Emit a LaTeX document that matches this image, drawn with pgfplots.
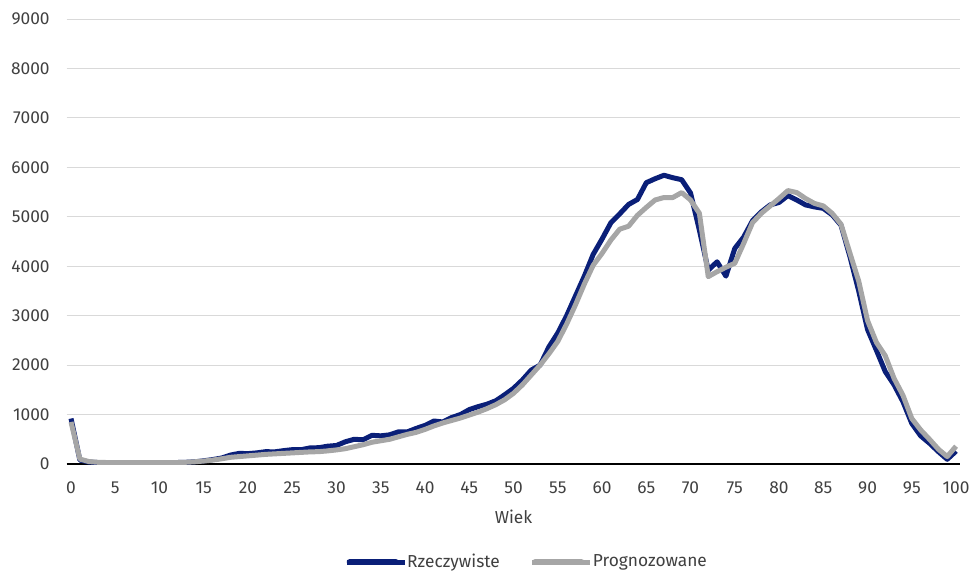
\documentclass[border=0pt]{standalone}
\usepackage{fontspec}
\setmainfont{Fira Sans}
\usepackage{pgfplots}
\usepackage{pgfplotstable}
\pgfplotsset{compat=1.18}

\definecolor{navy}{HTML}{0A1F78}
\definecolor{szary}{HTML}{A6A6A6}
\definecolor{siatka}{HTML}{D9D9D9}
\definecolor{tekst}{HTML}{404040}

\pgfplotstableread{
wiek rz pr
0 920 850
1 80 100
2 40 50
3 30 35
4 30 30
5 28 30
6 28 30
7 28 30
8 28 30
9 28 30
10 28 30
11 28 30
12 30 30
13 35 35
14 45 45
15 65 60
16 90 80
17 120 105
18 180 135
19 215 150
20 210 165
21 225 180
22 250 195
23 245 205
24 270 215
25 290 225
26 290 235
27 325 245
28 330 250
29 360 265
30 375 285
31 450 310
32 500 350
33 490 390
34 580 440
35 570 470
36 590 500
37 650 550
38 650 600
39 720 640
40 780 700
41 870 770
42 850 830
43 940 880
44 1000 930
45 1100 990
46 1160 1050
47 1210 1120
48 1280 1200
49 1400 1300
50 1530 1430
51 1700 1600
52 1900 1800
53 2000 2000
54 2370 2230
55 2650 2480
56 3000 2830
57 3400 3220
58 3800 3640
59 4240 4020
60 4550 4260
61 4880 4530
62 5060 4750
63 5250 4810
64 5350 5030
65 5690 5190
66 5770 5340
67 5840 5390
68 5790 5390
69 5750 5490
70 5480 5340
71 4730 5070
72 3920 3790
73 4090 3890
74 3800 3980
75 4360 4060
76 4590 4460
77 4920 4880
78 5100 5070
79 5240 5220
80 5290 5370
81 5430 5530
82 5340 5490
83 5240 5370
84 5200 5270
85 5170 5220
86 5040 5070
87 4830 4850
88 4200 4270
89 3500 3700
90 2720 2900
91 2300 2460
92 1870 2190
93 1600 1730
94 1260 1390
95 820 920
96 570 690
97 420 500
98 250 300
99 95 150
100 260 360
}\dane

\begin{document}
\begin{tikzpicture}
\begin{axis}[
    at={(0,0)}, anchor=south west,
    scale only axis,
    width=670.4pt, height=333.75pt,
    xmin=-0.5, xmax=100.5,
    ymin=0, ymax=9000,
    xtick={0,5,...,100},
    ytick={0,1000,...,9000},
    major tick length=0pt,
    axis line style={draw=none},
    ymajorgrids=true,
    grid style={siatka, line width=0.75pt},
    extra y ticks={0},
    extra y tick labels={},
    extra y tick style={grid style={black, line width=1.1pt}},
    /pgf/number format/1000 sep={},
    /pgf/number format/assume math mode=true,
    tick label style={font=\fontsize{13}{15}\selectfont, text=tekst, inner sep=0pt},
    yticklabel style={anchor=east, xshift=-12.5pt},
    xticklabel style={anchor=north, yshift=-13pt},
    xlabel={Wiek},
    xlabel style={at={(axis description cs:0.5,0)}, anchor=center, yshift=-40pt,
        font=\fontsize{13}{15}\selectfont, text=tekst},
    legend columns=2,
    legend style={draw=none, fill=none, inner sep=0pt,
        at={(axis description cs:0.5,0)}, anchor=center,
        yshift=-73.5pt, xshift=9pt,
        font=\fontsize{13}{15}\selectfont, text=tekst,
        nodes={inner sep=0pt},
        /tikz/every even column/.append style={column sep=22.5pt}},
    legend image code/.code={
        \draw[#1, line width=4.5pt, line cap=round] (2.25pt,0pt) -- (36.75pt,0pt);
        \path (0pt,0pt) -- (43.5pt,0pt);
    },
]
\addplot[navy, line width=3.75pt, line join=round] table[x=wiek, y=rz] {\dane};
\addlegendentry{Rzeczywiste}
\addplot[szary, line width=3.75pt, line join=round] table[x=wiek, y=pr] {\dane};
\addlegendentry{Prognozowane}
\end{axis}
\pgfresetboundingbox
\path[use as bounding box] (-49.95pt,-81pt) rectangle (676.8pt,348pt);
\end{tikzpicture}
\end{document}
